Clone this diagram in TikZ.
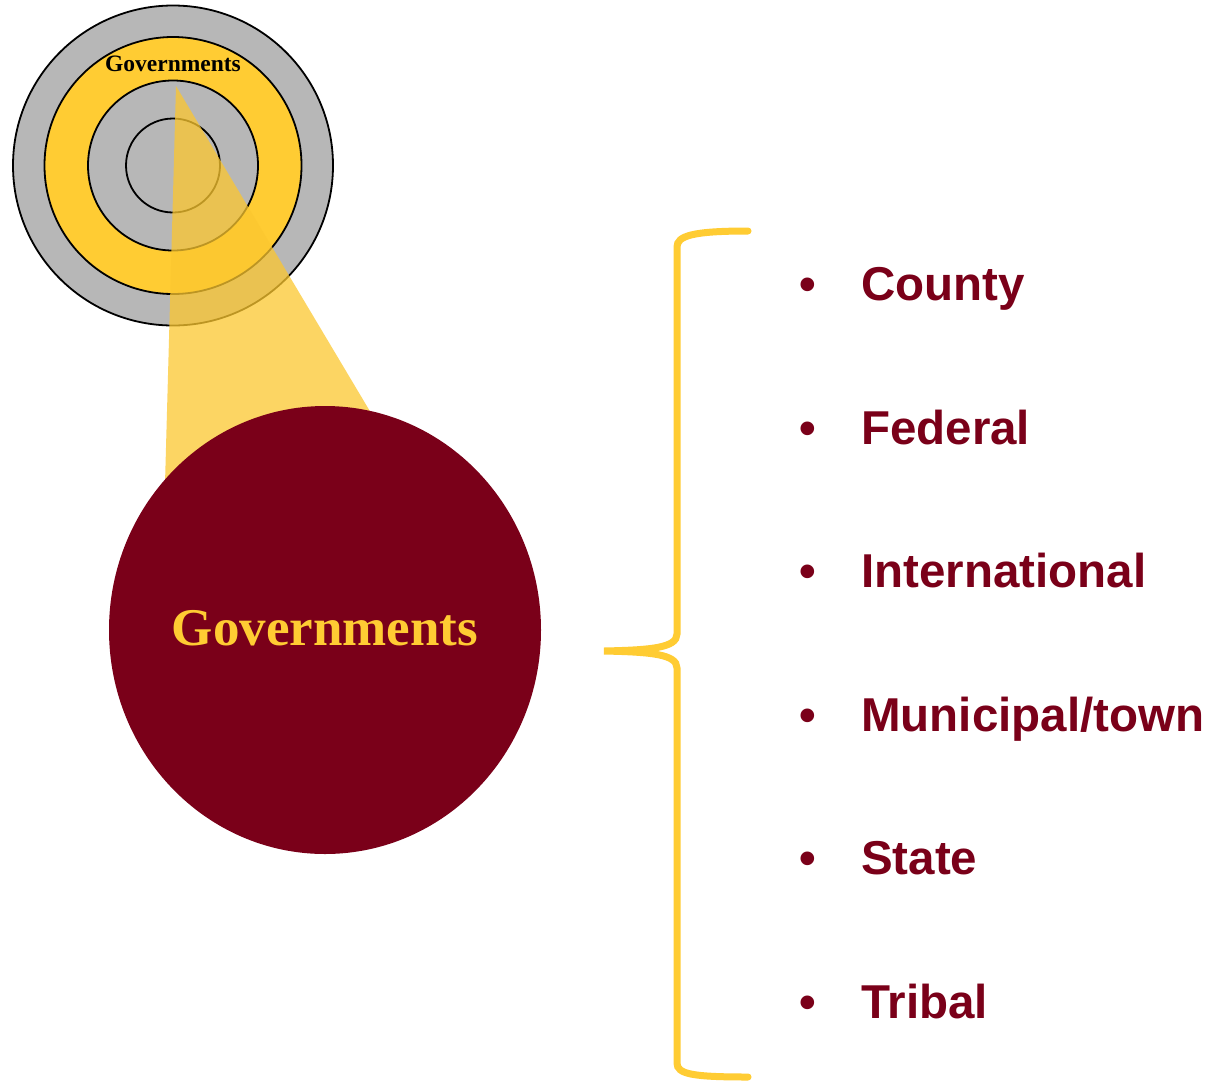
\documentclass[tikz,border=0pt]{standalone}
\usepackage{fontspec}
\setmainfont{Liberation Serif}
\newfontfamily\listfont{Liberation Sans}
\definecolor{ringgray}{HTML}{B7B7B7}
\definecolor{gold}{HTML}{FFCC33}
\definecolor{beam}{HTML}{FCC72F}
\definecolor{maroon}{HTML}{7A0019}
\begin{document}
\begin{tikzpicture}[x=1pt,y=-1pt,
  ring/.style={draw=black,line width=1.8pt},
  item/.style={anchor=base west,inner sep=0pt,text=maroon,font=\listfont\bfseries\fontsize{47.5}{50}\selectfont},
  dot/.style={anchor=base,inner sep=0pt,text=maroon,font=\listfont\bfseries\fontsize{47.5}{50}\selectfont}]
\useasboundingbox[fill=white] (0,0) rectangle (1212,1082);
% target circles
\coordinate (c) at (173,165.5);
\fill[ringgray] (c) circle (160pt);
\draw[ring] (c) circle (160pt);
\fill[gold] (c) circle (128.5pt);
\draw[ring] (c) circle (128.5pt);
\fill[ringgray] (c) circle (85pt);
\draw[ring] (c) circle (85pt);
\draw[ring] (c) circle (47pt);
\node[anchor=base,inner sep=0pt,font=\bfseries\fontsize{23.5}{26}\selectfont] (small) at (173,71) {Governments};
% beam
\coordinate (apex) at (176,86);
\fill[beam,fill opacity=0.75] (apex) -- (371,413) -- (325,630) -- (164,520) -- cycle;
% big circle
\fill[maroon] (325,630) ellipse [x radius=216, y radius=224];
\node[anchor=base,inner sep=0pt,text=gold,font=\bfseries\fontsize{53}{56}\selectfont] (big) at (325,645) {Governments};
% brace
\coordinate (btop) at (748,231);
\coordinate (btip) at (604,651);
\coordinate (bbot) at (748,1077);
\draw[gold,line width=7pt,line cap=round] (btop) .. controls (692,231) and (677,236) .. (677,247) -- (677,634)
  .. controls (677,648) and (650,650) .. (btip)
  .. controls (650,652) and (677,654) .. (677,668) -- (677,1063)
  .. controls (677,1074) and (692,1077) .. (bbot);
% list
\foreach \t [count=\i] in {County,Federal,International,Municipal/town,State,Tribal}{
  \pgfmathsetmacro{\yb}{300.5+(\i-1)*143.6}
  \node[dot] (b\i) at (808,\yb) {•};
  \node[item] (t\i) at (861,\yb) {\t};
}
\end{tikzpicture}
\end{document}
